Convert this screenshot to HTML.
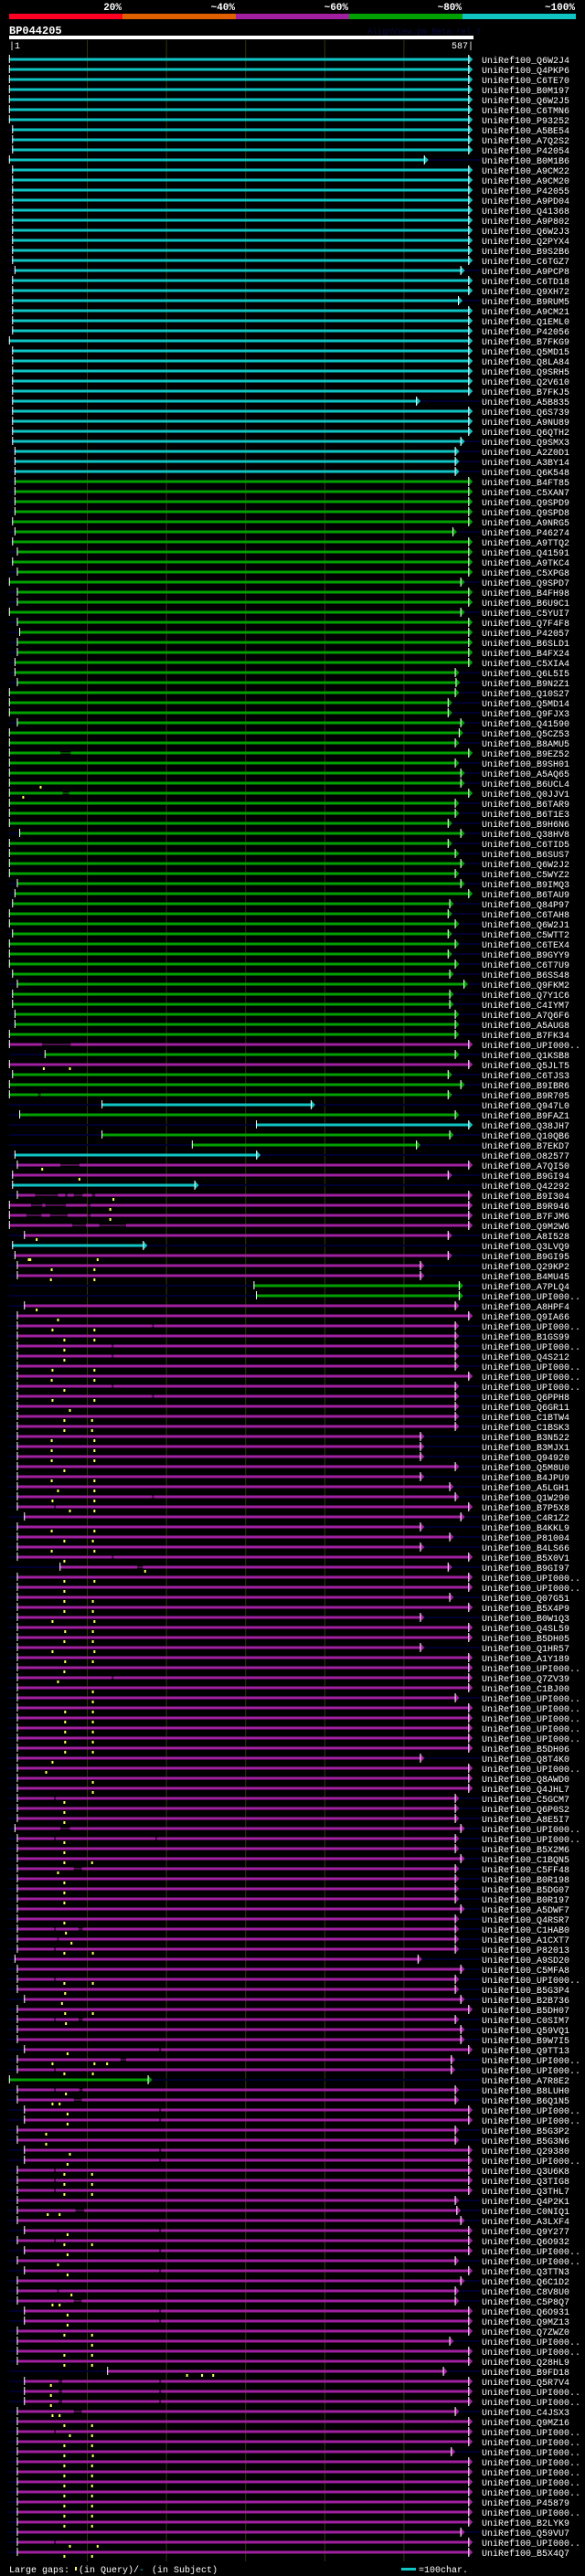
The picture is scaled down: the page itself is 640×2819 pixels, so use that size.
<!DOCTYPE html>
<html><head><meta charset="utf-8">
<style>
html,body{margin:0;padding:0;background:#000;}
svg{display:block;}
text{font-family:"Liberation Mono","DejaVu Sans Mono",monospace;}
</style></head>
<body>
<svg id="chart" width="640" height="2819" viewBox="0 0 640 2819" xmlns="http://www.w3.org/2000/svg">
<rect x="0" y="0" width="640" height="2819" fill="#000"/>
<g>
<text x="133" y="11" text-anchor="end" fill="#fff" font-size="11" font-weight="bold">20%</text>
<text x="257" y="11" text-anchor="end" fill="#fff" font-size="11" font-weight="bold">~40%</text>
<text x="381" y="11" text-anchor="end" fill="#fff" font-size="11" font-weight="bold">~60%</text>
<text x="505" y="11" text-anchor="end" fill="#fff" font-size="11" font-weight="bold">~80%</text>
<text x="629" y="11" text-anchor="end" fill="#fff" font-size="11" font-weight="bold">~100%</text>
<rect x="10" y="15" width="124" height="6" fill="#ff0022"/>
<rect x="134" y="15" width="124" height="6" fill="#e06000"/>
<rect x="258" y="15" width="124" height="6" fill="#a020a0"/>
<rect x="382" y="15" width="124" height="6" fill="#00a000"/>
<rect x="506" y="15" width="124" height="6" fill="#10c4c4"/>
</g>
<text x="10" y="37" fill="#fff" font-size="12" font-weight="bold">BP044205</text>
<text x="402" y="37" fill="#0a0a40" font-size="9">AlignView.pm Beta rel.7</text>
<rect x="10" y="39" width="508" height="4" fill="#fff"/>
<text x="10" y="53" fill="#fff" font-size="10">|1</text>
<text x="518" y="53" fill="#fff" font-size="10" text-anchor="end">587|</text>
<g id="grid"></g>
<g id="rows"></g>
<g>
<text x="10" y="2815" fill="#fff" font-size="10">Large gaps:</text>
<rect x="82" y="2809" width="2" height="4" fill="#ffff60"/>
<text x="86" y="2815" fill="#fff" font-size="10">(in Query)/</text>
<text x="152" y="2815" fill="#10c4c4" font-size="10">-</text>
<text x="166" y="2815" fill="#fff" font-size="10">(in Subject)</text>
<rect x="439" y="2810" width="16" height="3" fill="#10c4c4"/>
<text x="458" y="2815" fill="#fff" font-size="10">=100char.</text>
</g>
</svg>
<script>
const names = ["Q6W2J4","Q4PKP6","C6TE70","B0M197","Q6W2J5","C6TMN6","P93252","A5BE54","A7Q2S2","P42054",
"B0M1B6","A9CM22","A9CM20","P42055","A9PD04","Q41368","A9P802","Q6W2J3","Q2PYX4","B9S2B6",
"C6TGZ7","A9PCP8","C6TD18","Q9XH72","B9RUM5","A9CM21","Q1EML0","P42056","B7FKG9","Q5MD15",
"Q8LA84","Q9SRH5","Q2V610","B7FKJ5","A5B835","Q6S739","A9NU89","Q6QTH2","Q9SMX3","A2Z0D1",
"A3BY14","Q6K548","B4FT85","C5XAN7","Q9SPD9","Q9SPD8","A9NRG5","P46274","A9TTQ2","Q41591",
"A9TKC4","C5XPG8","Q9SPD7","B4FH98","B6U9C1","C5YUI7","Q7F4F8","P42057","B6SLD1","B4FX24",
"C5XIA4","Q6L5I5","B9N2Z1","Q10S27","Q5MD14","Q9FJX3","Q41590","Q5CZ53","B8AMU5","B9EZ52",
"B9SH01","A5AQ65","B6UCL4","Q0JJV1","B6TAR9","B6T1E3","B9H6N6","Q38HV8","C6TID5","B6SUS7",
"Q6W2J2","C5WYZ2","B9IMQ3","B6TAU9","Q84P97","C6TAH8","Q6W2J1","C5WTT2","C6TEX4","B9GYY9",
"C6T7U9","B6SS48","Q9FKM2","Q7Y1C6","C4IYM7","A7Q6F6","A5AUG8","B7FK34","UPI000..","Q1KSB8",
"Q5JLT5","C6TJS3","B9IBR6","B9R705","Q947L0","B9FAZ1","Q38JH7","Q10QB6","B7EKD7","O82577",
"A7QI50","B9GI94","Q42292","B9I304","B9R946","B7FJM6","Q9M2W6","A8I528","Q3LVQ9","B9GI95",
"Q29KP2","B4MU45","A7PLQ4","UPI000..","A8HPF4","Q9IA66","UPI000..","B1GS99","UPI000..","Q4S212",
"UPI000..","UPI000..","UPI000..","Q6PPH8","Q6GR11","C1BTW4","C1BSK3","B3N522","B3MJX1","Q94920",
"Q5M8U0","B4JPU9","A5LGH1","Q1W290","B7P5X8","C4R1Z2","B4KKL9","P81004","B4LS66","B5X0V1",
"B9GI97","UPI000..","UPI000..","Q07G51","B5X4P9","B0W1Q3","Q4SL59","B5DH05","Q1HR57","A1Y189",
"UPI000..","Q7ZV39","C1BJ00","UPI000..","UPI000..","UPI000..","UPI000..","UPI000..","B5DH06","Q8T4K0",
"UPI000..","Q8AWD0","Q4JHL7","C5GCM7","Q6P0S2","A8E5I7","UPI000..","UPI000..","B5X2M6","C1BQN5",
"C5FF48","B0R198","B5DG07","B0R197","A5DWF7","Q4RSR7","C1HAB0","A1CXT7","P82013","A9SD20",
"C5MFA8","UPI000..","B5G3P4","B2B736","B5DH07","C0SIM7","Q59VQ1","B9W7I5","Q9TT13","UPI000..",
"UPI000..","A7R8E2","B8LUH0","B6Q1N5","UPI000..","UPI000..","B5G3P2","B5G3N6","Q29380","UPI000..",
"Q3U6K8","Q3TIG8","Q3THL7","Q4P2K1","C0NIQ1","A3LXF4","Q9Y277","Q6O932","UPI000..","UPI000..",
"Q3TTN3","Q6C1D2","C8V8U0","C5P8Q7","Q6O931","Q9MZ13","Q7ZWZ0","UPI000..","UPI000..","Q28HL9",
"B9FD18","Q5R7V4","UPI000..","UPI000..","C4JSX3","Q9MZ16","UPI000..","UPI000..","UPI000..","UPI000..",
"UPI000..","UPI000..","UPI000..","P45879","UPI000..","B2LYK9","Q59VU7","UPI000..","B5X4Q7"];
const colorCodes = ("cccccccccccccccccccccccccccccccccccccccccc"+
"gggggggggggggggggggggggggggggggggggggggggggggggggggggggg"+
"pgpgggcgcggcppcpppppcpppgg"+
"ppppppppppppppppppppppppppppppppppppppppppppppppppppppppppppppppppppppppppppp"+
"g"+"ppppppppppppppppppppppppppppppppppppppppppppppp").split("");
const starts = [1,1,1,1,1,1,1,5,5,5, 1,5,5,5,5,5,5,5,5,5, 5,8,5,5,5,5,5,5,1,5,
5,5,5,5,5,5,5,5,5,8, 8,8,8,8,8,8,5,8,5,11, 5,11,1,11,11,1,11,14,11,11,
8,8,11,1,1,1,11,1,1,1, 1,1,1,1,1,1,1,14,1,1, 1,1,11,8,5,1,1,5,1,1,
1,5,11,5,5,8,8,1,1,46, 1,5,1,1,118,14,313,118,232,8, 11,5,5,11,1,1,1,20,5,8,
11,11,310,313,20,11,11,11,11,11, 11,11,11,11,11,11,11,11,11,11, 11,11,11,11,11,20,11,11,11,11,
65,11,11,11,11,11,11,11,11,11, 11,11,11,11,11,11,11,11,11,11, 11,11,11,11,11,11,8,11,11,11,
11,11,11,11,11,11,11,11,11,8, 11,11,11,20,11,11,11,11,20,11, 11,1,11,11,20,20,11,11,20,20,
11,11,11,11,11,11,20,11,20,11, 20,11,11,11,20,20,11,11,11,11, 125,20,20,20,11,11,11,11,11,11,
11,11,11,11,11,11,11,11,11];
const ends = [587,587,587,587,587,587,587,587,587,587, 531,587,587,587,587,587,587,587,587,587, 587,577,587,587,574,587,587,587,587,587,
587,587,587,587,521,587,587,587,577,570, 570,570,587,587,587,587,587,567,587,587, 587,587,577,587,587,577,587,587,587,587,
587,570,571,570,561,561,577,575,570,587, 570,577,577,587,570,570,561,577,561,570, 577,570,577,587,563,561,570,561,570,561,
570,563,581,563,563,570,570,570,587,570, 587,561,577,561,388,570,587,563,521,319, 587,561,241,587,587,587,587,561,176,561,
526,526,575,575,570,587,570,570,570,570, 570,587,570,570,570,570,570,526,526,526, 570,526,563,570,587,577,526,563,526,587,
561,587,587,563,587,526,587,587,526,587, 587,587,587,570,587,587,587,587,587,526, 587,587,587,570,570,570,577,570,570,577,
570,570,570,570,577,570,570,570,570,523, 577,570,570,577,587,570,577,577,587,565, 565,182,570,570,587,587,570,570,587,587,
587,587,587,570,572,577,587,587,587,570, 587,577,570,570,587,587,587,563,587,587, 555,587,587,587,570,587,587,587,565,587,
587,587,587,587,587,587,577,587,587];
const gaps = [[69,66,79],[73,69,77],[98,43,79],[103,38,41],[110,66,90],
[113,34,63],[113,72,75],[113,83,94],[113,106,110],[114,29,43],[114,47,73],[114,100,104],
[115,23,42],[115,53,75],[115,100,104],[116,81,98],[116,115,149],
[126,182,184],[128,131,133],[129,131,133],[132,131,133],[133,182,184],[143,182,184],[144,58,60],[149,131,133],
[150,163,170],[161,131,133],[173,58,60],[176,66,78],[177,58,60],[177,186,188],[180,83,93],[186,58,60],[186,89,94],
[187,62,64],[188,58,60],[191,58,60],[195,58,60],[195,89,94],[198,191,193],[199,142,149],[200,58,60],
[202,58,60],[202,90,94],[203,83,93],[204,191,193],[205,191,193],[208,191,193],[209,191,193],
[210,58,60],[211,58,60],[212,58,60],[214,85,96],[216,191,193],[217,58,60],[218,191,193],[220,191,193],
[222,62,64],[223,83,93],[224,191,193],[225,191,193],[231,64,68],[231,191,193],[232,64,68],[232,191,193],
[233,64,68],[233,191,193],[234,83,93],[236,58,60],[247,58,60]];
const markers = [[72,41],[73,19],[100,45],[100,78],[110,43],[111,90],[113,133],[114,129],[115,129],[117,36],
[119,26],[119,28],[119,113],[120,55],[120,109],[121,54],[121,109],[124,36],
[125,63],[126,56],[126,109],[127,71],[127,109],[128,71],[129,71],[130,56],[130,109],[131,55],[131,109],[132,71],
[133,56],[133,109],[134,78],[135,71],[135,106],[136,71],[136,106],[137,55],[137,109],[138,55],[138,109],[139,55],[139,109],
[140,71],[141,55],[141,109],[142,63],[142,109],[143,56],[143,109],[144,78],[144,109],[146,55],[146,109],[147,71],[147,107],
[148,55],[148,109],[149,71],[150,173],[151,71],[151,109],[152,71],[153,71],[153,107],[154,71],[154,107],[155,56],[155,109],
[156,72],[156,107],[157,71],[157,107],[158,56],[158,109],[159,72],[159,107],[160,71],[161,63],[162,107],[163,107],
[164,72],[164,107],[165,72],[165,107],[166,72],[166,107],[167,72],[167,107],[168,72],[168,107],[169,56],[170,48],[171,107],[172,107],
[173,71],[174,71],[175,71],[177,71],[178,71],[179,71],[179,106],[180,63],[181,71],[182,71],[183,71],[185,71],[186,73],[187,80],
[188,71],[188,107],[191,71],[191,107],[192,72],[193,68],[194,72],[194,107],[195,73],[198,75],[199,56],[199,109],[199,125],
[200,71],[200,107],[202,73],[203,56],[203,65],[204,75],[205,75],[206,48],[207,48],[208,78],[209,75],
[210,71],[210,106],[211,71],[211,106],[212,71],[212,106],[214,50],[214,65],[216,75],[217,71],[217,106],[218,75],[219,63],[220,75],
[222,80],[223,56],[223,65],[224,75],[225,75],[226,71],[226,106],[227,106],[228,71],[228,106],[229,71],[229,106],
[230,226],[230,245],[230,259],[231,54],[232,54],[233,54],[234,56],[234,65],[235,71],[235,106],[236,78],[236,106],
[237,71],[237,106],[238,71],[238,107],[239,71],[239,106],[240,71],[240,106],[241,71],[241,106],[242,71],[242,106],
[243,71],[243,106],[244,71],[244,106],[245,71],[245,106],[247,78],[247,113],[248,71],[248,106]];
const gridTicks = [100,200,300,400,500];

const NS = "http://www.w3.org/2000/svg";
const palette = {c:"#10c4c4", g:"#00a000", p:"#a020a0"};
function xs(p){ return 9.8 + (p-1)*0.866; }
function ys(i){ return 65 + 11*i; }
function mk(tag, attrs, parent){
  const el = document.createElementNS(NS, tag);
  for (const k in attrs) el.setAttribute(k, attrs[k]);
  parent.appendChild(el);
  return el;
}
const grid = document.getElementById("grid");
gridTicks.forEach(function(t){
  const ln = mk("line",{x1:xs(t),x2:xs(t),y1:44,y2:2803,stroke:"#34340e","stroke-width":1},grid);
  
  
});
const rowsG = document.getElementById("rows");
for (let i=0;i<names.length;i++){
  const y = ys(i), col = palette[colorCodes[i]] || "#a020a0";
  const g = mk("g",{},rowsG);
  
  
  const s = starts[i], e = ends[i];
  if (s > 1) {
    const d1 = mk("rect",{x:xs(1),y:y-1,width:xs(s)-xs(1),height:2,fill:"#000030"},g);
    
    
  }
  if (e < 587) {
    const d2 = mk("rect",{x:xs(e),y:y-1,width:526-xs(e),height:2,fill:"#000030"},g);
    
    
  }
  // segments
  const rg = gaps.filter(function(q){return q[0]===i;}).sort(function(a,b){return a[1]-b[1];});
  let cur = s;
  const barEnd = xs(e)-5;
  rg.forEach(function(q){
    const seg = mk("rect",{x:xs(cur),y:y-1.5,width:Math.max(0,xs(q[1])-xs(cur)),height:3,fill:col},g);
    
    
    const gp = mk("rect",{x:xs(q[1]),y:y-0.5,width:xs(q[2])-xs(q[1]),height:1,fill:col},g);
    
    
    cur = q[2];
  });
  const last = mk("rect",{x:xs(cur),y:y-1.5,width:Math.max(0,barEnd-xs(cur)),height:3,fill:col},g);
  
  
  const ar = mk("polygon",{points:(barEnd)+","+(y-5)+" "+(barEnd)+","+(y+5)+" "+(xs(e))+","+y,fill:col},g);
  
  
  const aw = mk("rect",{x:barEnd,y:y-5,width:1,height:10,fill:"#fff"},g);
  
  
  const tk = mk("rect",{x:xs(s),y:y-5,width:1,height:9,fill:"#fff"},g);
  
  
  markers.filter(function(m){return m[0]===i;}).forEach(function(m){
    const mx = xs(m[1]);
    const a = mk("rect",{x:mx-1,y:y+3,width:2,height:3,fill:"#ffff60"},g);
    
    
  });
  const lb = mk("text",{x:527,y:y+4,fill:"#fff","font-size":10},g);
  lb.textContent = "UniRef100_" + names[i];
  
  
}
</script>
</body></html>
